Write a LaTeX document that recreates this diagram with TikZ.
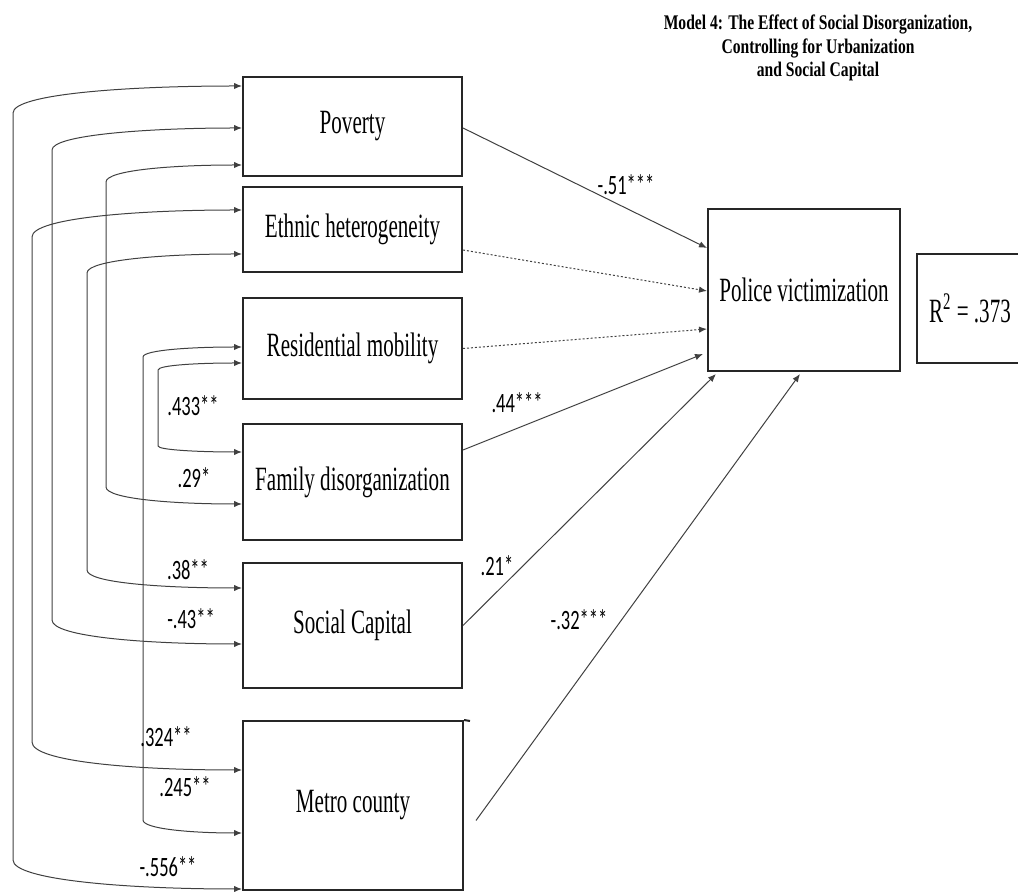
\documentclass[tikz,border=0pt]{standalone}
\usepackage{fontspec}
\setmainfont[FakeStretch=0.62]{Liberation Serif}
\newfontfamily\lblfont[FakeStretch=0.66]{Carlito}
\newfontfamily\ttlfont[FakeStretch=0.75]{Liberation Serif}
\usetikzlibrary{arrows.meta,calc,positioning}

\tikzset{
  varbox/.style={draw=black!85,line width=1pt,minimum width=109.5pt,
    font=\fontsize{17}{20}\selectfont,inner sep=2pt},
  path/.style={draw=black!75,line width=0.5pt,-{Latex[length=4pt,width=3.2pt]}},
  nspath/.style={path,dash pattern=on 1pt off 1pt},
  corr/.style={draw=black!75,line width=0.5pt,
    {Latex[length=4pt,width=3.2pt]}-{Latex[length=4pt,width=3.2pt]}},
  coef/.style={font=\lblfont\fontsize{14}{16}\selectfont,inner sep=0pt}
}

\begin{document}
\begin{tikzpicture}[x=0.5pt,y=-0.5pt]
\useasboundingbox (0,0) rectangle (1018,892);

% title
\node[font=\ttlfont\bfseries\fontsize{10.4}{11.6}\selectfont,align=center] (title) at (818,48)
{Model 4: The Effect of Social Disorganization,\\ Controlling for Urbanization\\ and Social Capital};

% predictors
\node[varbox,minimum height=49.5pt] (pov) at (352.5,126.5) {Poverty};
\node[varbox,minimum height=42.5pt] (eth) at (352.5,229.5) {Ethnic heterogeneity};
\node[varbox,minimum height=50.5pt] (res) at (352.5,348.5) {Residential mobility};
\node[varbox,minimum height=58pt] (fam) at (352.5,482) {Family disorganization};
\node[varbox,minimum height=62.5pt] (soc) at (352.5,625.5) {Social Capital};
\node[varbox,minimum width=110pt,minimum height=84.5pt] (metro) at (353,805.5) {Metro county};
\draw[line width=1pt,black!85] (metro.north east) -- ++(6,1);

% outcome
\node[varbox,minimum width=96pt,minimum height=81pt] (police) at (804,290) {Police victimization};
\node[varbox,minimum width=53pt,minimum height=54.5pt] (rsq) at (970,308.5) {R\textsuperscript{2} = .373};

% direct paths
\draw[path] ($(pov.east)+(0,1.5)$) -- ($(police.west)+(0,-42)$);
\draw[nspath] ($(eth.east)+(0,20.5)$) -- ($(police.west)+(0,1)$);
\draw[nspath] (res.east) -- ($(police.west)+(0,39)$);
\draw[path] ($(fam.east)+(0,-32)$) -- ($(police.west)+(-4,64)$);
\draw[path] (soc.east) -- ($(police.south west)+(9,2)$);
\draw[path] ($(metro.east)+(12,15)$) -- ($(police.south)+(-4,2)$);

\node[coef] (bpov) at (626,185) {-.51***};
\node[coef] (bfam) at (517,403) {.44***};
\node[coef] (bsoc) at (497,566) {.21*};
\node[coef] (bmetro) at (579,620) {-.32***};

% correlations
\draw[corr] ($(pov.west)+(0,-40.5)$) .. controls +(-115,0) and +(0,-19) .. (13,113)
  -- (13,860) .. controls +(0,20) and +(-115,0) .. ($(metro.west)+(0,83.5)$);
\draw[corr] ($(pov.west)+(0,1.5)$) .. controls +(-95,0) and +(0,-15) .. (52,150)
  -- (52,620) .. controls +(0,17) and +(-95,0) .. ($(soc.west)+(0,18.5)$);
\draw[corr] ($(pov.west)+(0,38.5)$) .. controls +(-68,0) and +(0,-12) .. (106,182)
  -- (106,487) .. controls +(0,12) and +(-68,0) .. ($(fam.west)+(0,22)$);
\draw[corr] ($(eth.west)+(0,-19.5)$) .. controls +(-105,0) and +(0,-19) .. (32,237)
  -- (32,742) .. controls +(0,20) and +(-105,0) .. ($(metro.west)+(0,-35.5)$);
\draw[corr] ($(eth.west)+(0,24.5)$) .. controls +(-78,0) and +(0,-13) .. (87,273)
  -- (87,570) .. controls +(0,13) and +(-78,0) .. ($(soc.west)+(0,-37.5)$);
\draw[corr] ($(res.west)+(0,-1.5)$) .. controls +(-50,0) and +(0,-7) .. (143,357)
  -- (143,820) .. controls +(0,9) and +(-50,0) .. ($(metro.west)+(0,27.5)$);
\draw[corr] ($(res.west)+(0,14.5)$) .. controls +(-42,0) and +(0,-5) .. (158,370)
  -- (158,446) .. controls +(0,4) and +(-42,0) .. ($(fam.west)+(0,-30)$);

\node[coef] (rresfam) at (193,406) {.433**};
\node[coef] (rpovfam) at (194,478) {.29*};
\node[coef] (rethsoc) at (188,570) {.38**};
\node[coef] (rpovsoc) at (191,619) {-.43**};
\node[coef] (rethmetro) at (166,737) {.324**};
\node[coef] (rresmetro) at (185,787) {.245**};
\node[coef] (rpovmetro) at (168,867) {-.556**};

\end{tikzpicture}
\end{document}
